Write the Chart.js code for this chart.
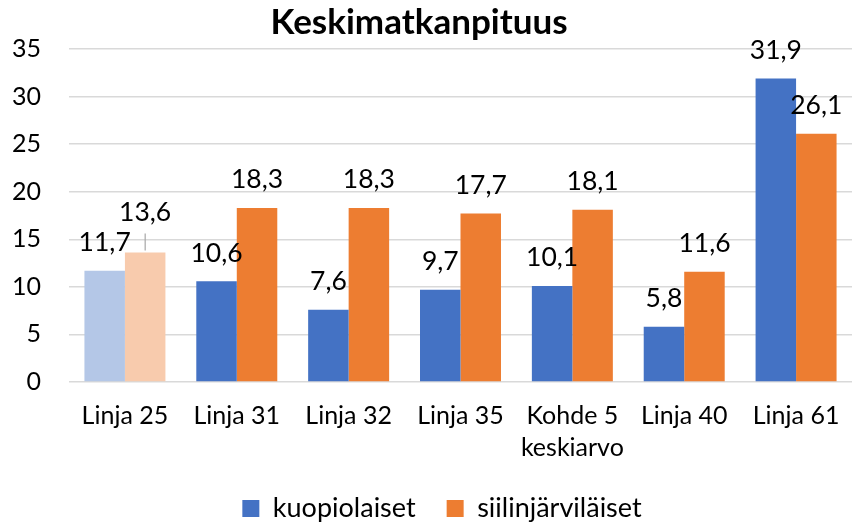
<!DOCTYPE html>
<html>
<head>
<meta charset="utf-8">
<script src="https://cdn.jsdelivr.net/npm/chart.js@4/dist/chart.umd.min.js"></script>
<style>html,body{margin:0;padding:0;background:#fff}#wrap{width:854px;height:524px}</style>
</head>
<body>
<div id="wrap"><canvas id="c"></canvas></div>
<script>
const categories = ['Linja 25', 'Linja 31', 'Linja 32', 'Linja 35', ['Kohde 5', 'keskiarvo'], 'Linja 40', 'Linja 61'];
const kuopiolaiset = [11.7, 10.6, 7.6, 9.7, 10.1, 5.8, 31.9];
const siilinjarvilaiset = [13.6, 18.3, 18.3, 17.7, 18.1, 11.6, 26.1];
const seriesNames = ['kuopiolaiset', 'siilinjärviläiset'];
const yTicks = [0, 5, 10, 15, 20, 25, 30, 35];

const FONT = 'Lato, "Noto Sans", sans-serif';
const BLUE = '#4472C4', BLUE_L = '#B4C7E7', ORANGE = '#ED7D31', ORANGE_L = '#F8CBAD';
const MAIN = [BLUE, ORANGE];

function fmt(v) { return v.toFixed(1).replace('.', ','); }

const labelPlugin = {
  id: 'barLabels',
  afterInit(chart) {
    const leg = chart.legend;
    if (leg) {
      const orig = leg.fit.bind(leg);
      leg.fit = function () { orig(); this.height = 58; };
    }
  },
  afterLayout(chart) {
    const tb = chart.titleBlock;
    if (tb) { tb.left -= 7; tb.right -= 7; }
    const lg = chart.legend;
    if (lg) { lg.left += 16; lg.right += 16; }
  },
  afterDatasetsDraw(chart) {
    const ctx = chart.ctx;
    ctx.save();
    ctx.font = '26.5px ' + FONT;
    ctx.fillStyle = '#000';
    ctx.textAlign = 'center';
    ctx.textBaseline = 'middle';
    chart.data.datasets.forEach((ds, di) => {
      const meta = chart.getDatasetMeta(di);
      meta.data.forEach((bar, i) => {
        let lift = 28;
        const moved = (di === 1 && i === 0);
        if (moved) lift = 40;
        const y = bar.y - lift;
        ctx.fillText(fmt(ds.data[i]), bar.x, y);
        if (moved) {
          ctx.strokeStyle = '#A6A6A6';
          ctx.lineWidth = 1.2;
          ctx.beginPath();
          ctx.moveTo(bar.x, y + 21);
          ctx.lineTo(bar.x, bar.y - 2);
          ctx.stroke();
        }
      });
    });
    ctx.restore();
  }
};

new Chart(document.getElementById('c'), {
  type: 'bar',
  data: {
    labels: categories,
    datasets: [
      { label: seriesNames[0], data: kuopiolaiset,
        backgroundColor: c => (c.type === 'data' && c.dataIndex === 0) ? BLUE_L : BLUE },
      { label: seriesNames[1], data: siilinjarvilaiset,
        backgroundColor: c => (c.type === 'data' && c.dataIndex === 0) ? ORANGE_L : ORANGE }
    ]
  },
  options: {
    responsive: true,
    maintainAspectRatio: false,
    animation: false,
    layout: { padding: { left: 0, right: 2, top: 0, bottom: 2 } },
    datasets: { bar: { categoryPercentage: 0.724, barPercentage: 1.0, borderWidth: 0 } },
    plugins: {
      title: {
        display: true, text: 'Keskimatkanpituus', color: '#000',
        font: { family: FONT, size: 35, weight: 'bold' }, padding: { top: 2, bottom: 5 }
      },
      legend: {
        position: 'bottom',
        labels: {
          color: '#000', font: { family: FONT, size: 27 },
          boxWidth: 17, boxHeight: 17, padding: 31,
          generateLabels: chart => chart.data.datasets.map((ds, i) => ({
            text: ds.label, fillStyle: MAIN[i], strokeStyle: MAIN[i], lineWidth: 0,
            fontColor: '#000', datasetIndex: i, hidden: false
          }))
        }
      },
      tooltip: { enabled: false }
    },
    scales: {
      x: {
        afterFit: s => { s.height = 82; },
        grid: { display: false },
        border: { display: false },
        ticks: { color: '#000', font: { family: FONT, size: 25, lineHeight: 1.28 }, padding: 10, maxRotation: 0, autoSkip: false }
      },
      y: {
        min: 0, max: 35,
        afterBuildTicks: s => { s.ticks = yTicks.map(v => ({ value: v })); },
        afterFit: s => { s.width = 69; },
        grid: { color: '#D9D9D9', lineWidth: 1.5, drawTicks: false },
        border: { display: false },
        ticks: { color: '#000', font: { family: FONT, size: 25 }, padding: 28 }
      }
    }
  },
  plugins: [labelPlugin]
});
</script>
</body>
</html>
